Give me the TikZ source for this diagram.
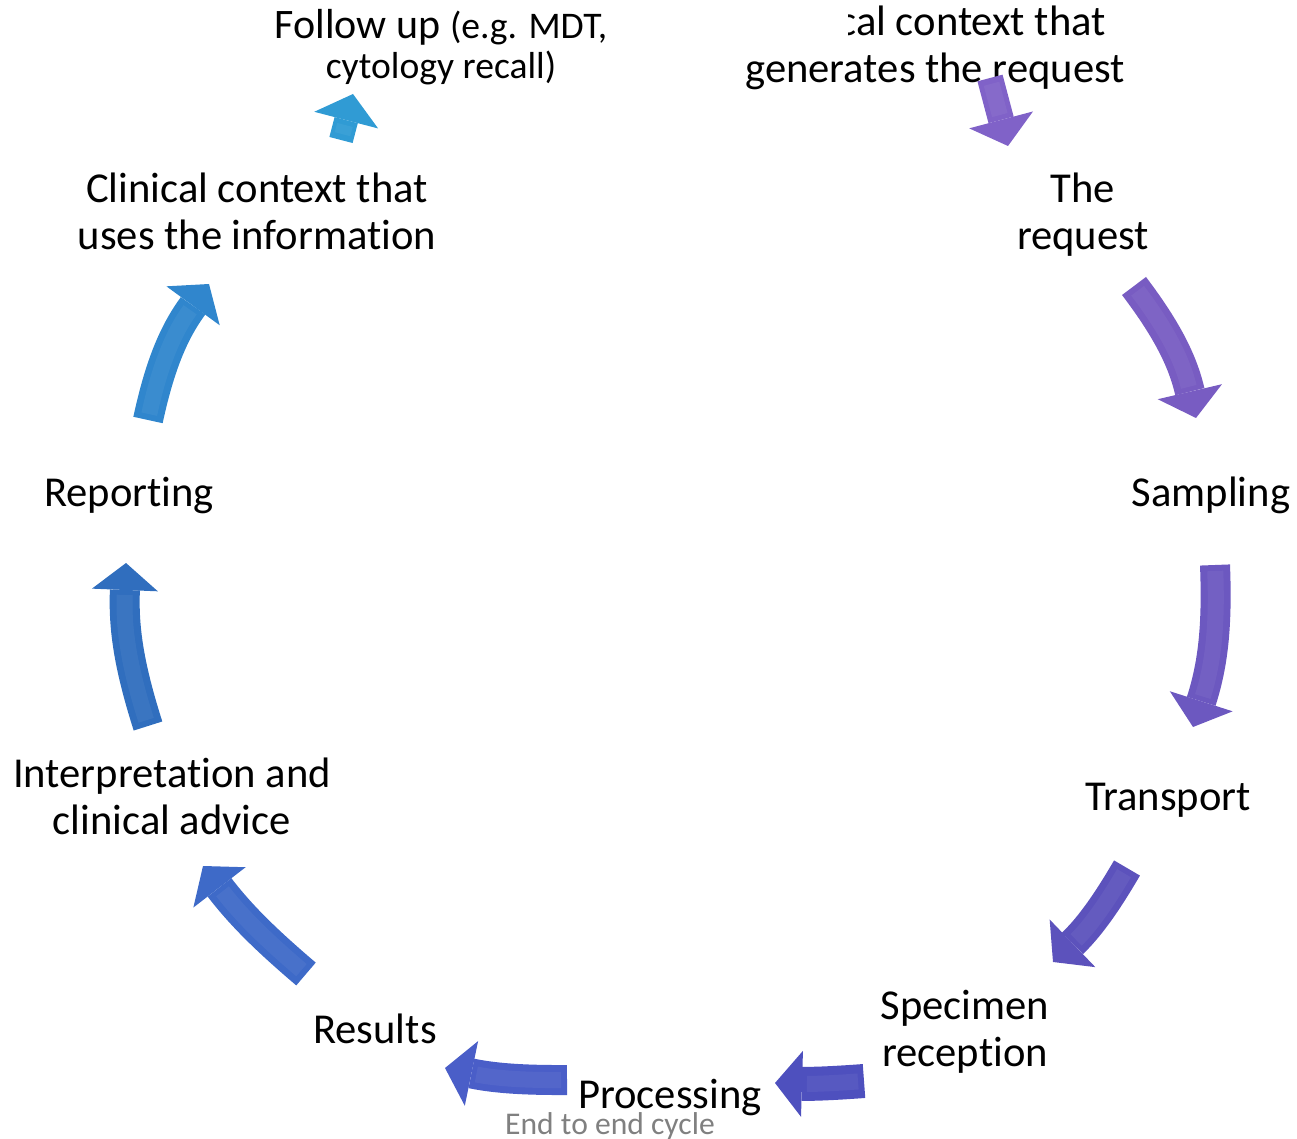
\documentclass[tikz,border=0pt]{standalone}
\usepackage{fontspec}
\setmainfont[Ligatures=NoCommon]{Carlito}
\usetikzlibrary{arrows.meta}
\definecolor{c1}{RGB}{128,98,200}
\definecolor{c2}{RGB}{120,92,194}
\definecolor{c3}{RGB}{108,88,192}
\definecolor{c4}{RGB}{92,82,188}
\definecolor{c5}{RGB}{78,80,190}
\definecolor{c6}{RGB}{74,94,200}
\definecolor{c7}{RGB}{62,106,200}
\definecolor{c8}{RGB}{48,110,190}
\definecolor{c9}{RGB}{48,134,205}
\definecolor{c10}{RGB}{48,155,212}
\definecolor{cyclegray}{RGB}{128,128,128}
\begin{document}
\begin{tikzpicture}[x=0.5pt,y=-0.5pt,
  lbl/.style={font=\fontsize{21.3}{23.5}\selectfont, inner sep=0pt, align=center, text=black},
  fatarrow/.style={line width=15pt, draw=#1, -{Triangle[length=13.5pt,width=33pt,line width=0pt]}},
  shine/.style={line width=8pt, draw=#1!85!white, shorten >=16pt, shorten <=3pt, opacity=0.35}]
\useasboundingbox (0,0) rectangle (1297,1139);

% labels
\node[lbl] (genreq) at (935,48) {Clinical context that\\generates the request};
\fill[white] (600,0) rectangle (848,42);
\node[lbl, font=\fontsize{21}{20}\selectfont] (follow) at (441,47)
  {Follow up {\fontsize{18.8}{20}\selectfont (e.g. MDT,}\\{\fontsize{18.8}{20}\selectfont cytology recall)}};
\node[lbl] (req) at (1083,215) {The\\request};
\node[lbl, anchor=base] (samp) at (1211,506) {Sampling};
\node[lbl, anchor=base] (trans) at (1168,810) {Transport};
\node[lbl] (spec) at (965,1032) {Specimen\\reception};
\node[lbl, anchor=base] (proc) at (670,1108) {Processing};
\node[anchor=base, inner sep=0pt, font=\fontsize{15.8}{18}\selectfont, text=cyclegray] (cycle) at (610,1134) {End to end cycle};
\node[lbl, anchor=base] (res) at (375,1043) {Results};
\node[lbl] (interp) at (172,796) {Interpretation and\\clinical advice};
\node[lbl, anchor=base] (rep) at (129,506) {Reporting};
\node[lbl] (useinfo) at (257,211) {Clinical context that\\uses the information};

% arrow end points
\coordinate (a1s) at (990,78);   \coordinate (a1e) at (1008,146);
\coordinate (a2s) at (1134,286); \coordinate (a2e) at (1196,418);
\coordinate (a3s) at (1215,565); \coordinate (a3e) at (1193,727);
\coordinate (a4s) at (1127,868); \coordinate (a4e) at (1053,962);
\coordinate (a5s) at (864,1081); \coordinate (a5e) at (775,1083);
\coordinate (a6s) at (567,1080); \coordinate (a6e) at (445,1068);
\coordinate (a7s) at (306,974);  \coordinate (a7e) at (203,866);
\coordinate (a8s) at (148,726);  \coordinate (a8e) at (126,563);
\coordinate (a9s) at (148,420);  \coordinate (a9e) at (209,284);
\coordinate (a10s) at (341,140); \coordinate (a10e) at (353,94);

% arrows
\draw[fatarrow=c1, line width=13pt] (a1s) -- (a1e);
\draw[shine=c1] (a1s) -- (a1e);
\draw[fatarrow=c2] (a2s) to[bend left=12] (a2e);
\draw[shine=c2] (a2s) to[bend left=12] (a2e);
\draw[fatarrow=c3] (a3s) to[bend left=10] (a3e);
\draw[shine=c3] (a3s) to[bend left=10] (a3e);
\draw[fatarrow=c4] (a4s) to[bend left=8] (a4e);
\draw[shine=c4] (a4s) to[bend left=8] (a4e);
\draw[fatarrow=c5, line width=17pt] (a5s) to[bend left=3] (a5e);
\draw[shine=c5] (a5s) to[bend left=3] (a5e);
\draw[fatarrow=c6] (a6s) to[bend left=6] (a6e);
\draw[shine=c6] (a6s) to[bend left=6] (a6e);
\draw[fatarrow=c7] (a7s) to[bend left=6] (a7e);
\draw[shine=c7] (a7s) to[bend left=6] (a7e);
\draw[fatarrow=c8] (a8s) to[bend left=10] (a8e);
\draw[shine=c8] (a8s) to[bend left=10] (a8e);
\draw[fatarrow=c9] (a9s) to[bend left=12] (a9e);
\draw[shine=c9] (a9s) to[bend left=12] (a9e);
\draw[fatarrow=c10, line width=12pt] (a10s) -- (a10e);
\draw[shine=c10] (a10s) -- (a10e);
\end{tikzpicture}
\end{document}
